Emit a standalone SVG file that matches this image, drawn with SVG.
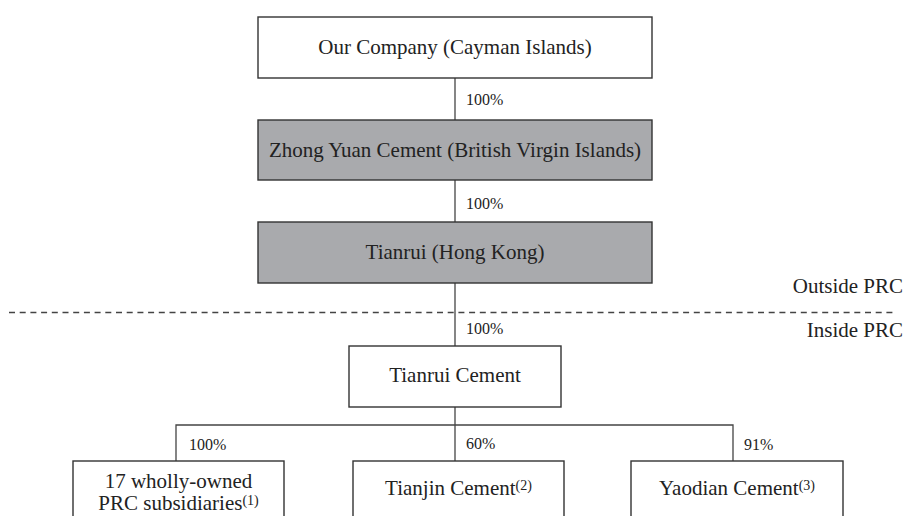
<svg xmlns="http://www.w3.org/2000/svg" width="906" height="516" viewBox="0 0 906 516">
<style>
  .box { fill: #ffffff; stroke: #333333; stroke-width: 1.4; }
  .gray { fill: #a9aaad; stroke: #333333; stroke-width: 1.4; }
  .t { font-family: "Liberation Serif", "Times New Roman", serif; font-size: 21px; fill: #222222; text-anchor: middle; }
  .pct { font-family: "Liberation Serif", "Times New Roman", serif; font-size: 16px; fill: #222222; }
  .side { font-family: "Liberation Serif", "Times New Roman", serif; font-size: 21px; fill: #222222; text-anchor: end; }
  .sup { font-size: 14px; }
  .conn { fill: none; stroke: #444444; stroke-width: 1.3; }
  .dash { fill: none; stroke: #444444; stroke-width: 1.3; stroke-dasharray: 6 4.7; }
</style>
<rect width="906" height="516" fill="#ffffff"/>

<g id="connectors">
  <line class="conn" x1="455" y1="78" x2="455" y2="120"/>
  <line class="conn" x1="455" y1="180" x2="455" y2="222"/>
  <line class="conn" x1="455" y1="283" x2="455" y2="346"/>
  <line class="conn" x1="455" y1="407" x2="455" y2="461"/>
  <polyline class="conn" points="176,461 176,425 733,425 733,461"/>
  <text class="pct" x="466" y="105">100%</text>
  <text class="pct" x="466" y="209">100%</text>
  <text class="pct" x="466" y="334">100%</text>
  <text class="pct" x="189" y="450">100%</text>
  <text class="pct" x="466" y="449">60%</text>
  <text class="pct" x="744" y="450">91%</text>
</g>

<g id="boundary">
  <line class="dash" x1="9" y1="312.5" x2="896" y2="312.5"/>
  <text class="side" x="903" y="293">Outside PRC</text>
  <text class="side" x="903" y="337">Inside PRC</text>
</g>

<g id="our-company">
  <rect class="box" x="258" y="17" width="394" height="61"/>
  <text class="t" x="455" y="54">Our Company (Cayman Islands)</text>
</g>

<g id="zhong-yuan">
  <rect class="gray" x="258" y="120" width="394" height="60"/>
  <text class="t" x="455" y="157">Zhong Yuan Cement (British Virgin Islands)</text>
</g>

<g id="tianrui-hk">
  <rect class="gray" x="258" y="222" width="394" height="61"/>
  <text class="t" x="455" y="259">Tianrui (Hong Kong)</text>
</g>

<g id="tianrui-cement">
  <rect class="box" x="349" y="346" width="212" height="61"/>
  <text class="t" x="455" y="382">Tianrui Cement</text>
</g>

<g id="prc-subsidiaries">
  <rect class="box" x="73" y="461" width="211" height="70"/>
  <text class="t" x="178.5" y="488">17 wholly-owned</text>
  <text class="t" x="178.5" y="510">PRC subsidiaries<tspan class="sup" dy="-5">(1)</tspan></text>
</g>

<g id="tianjin-cement">
  <rect class="box" x="353" y="461" width="211" height="70"/>
  <text class="t" x="458.5" y="495">Tianjin Cement<tspan class="sup" dy="-5">(2)</tspan></text>
</g>

<g id="yaodian-cement">
  <rect class="box" x="631" y="461" width="212" height="70"/>
  <text class="t" x="737" y="495">Yaodian Cement<tspan class="sup" dy="-5">(3)</tspan></text>
</g>
</svg>
